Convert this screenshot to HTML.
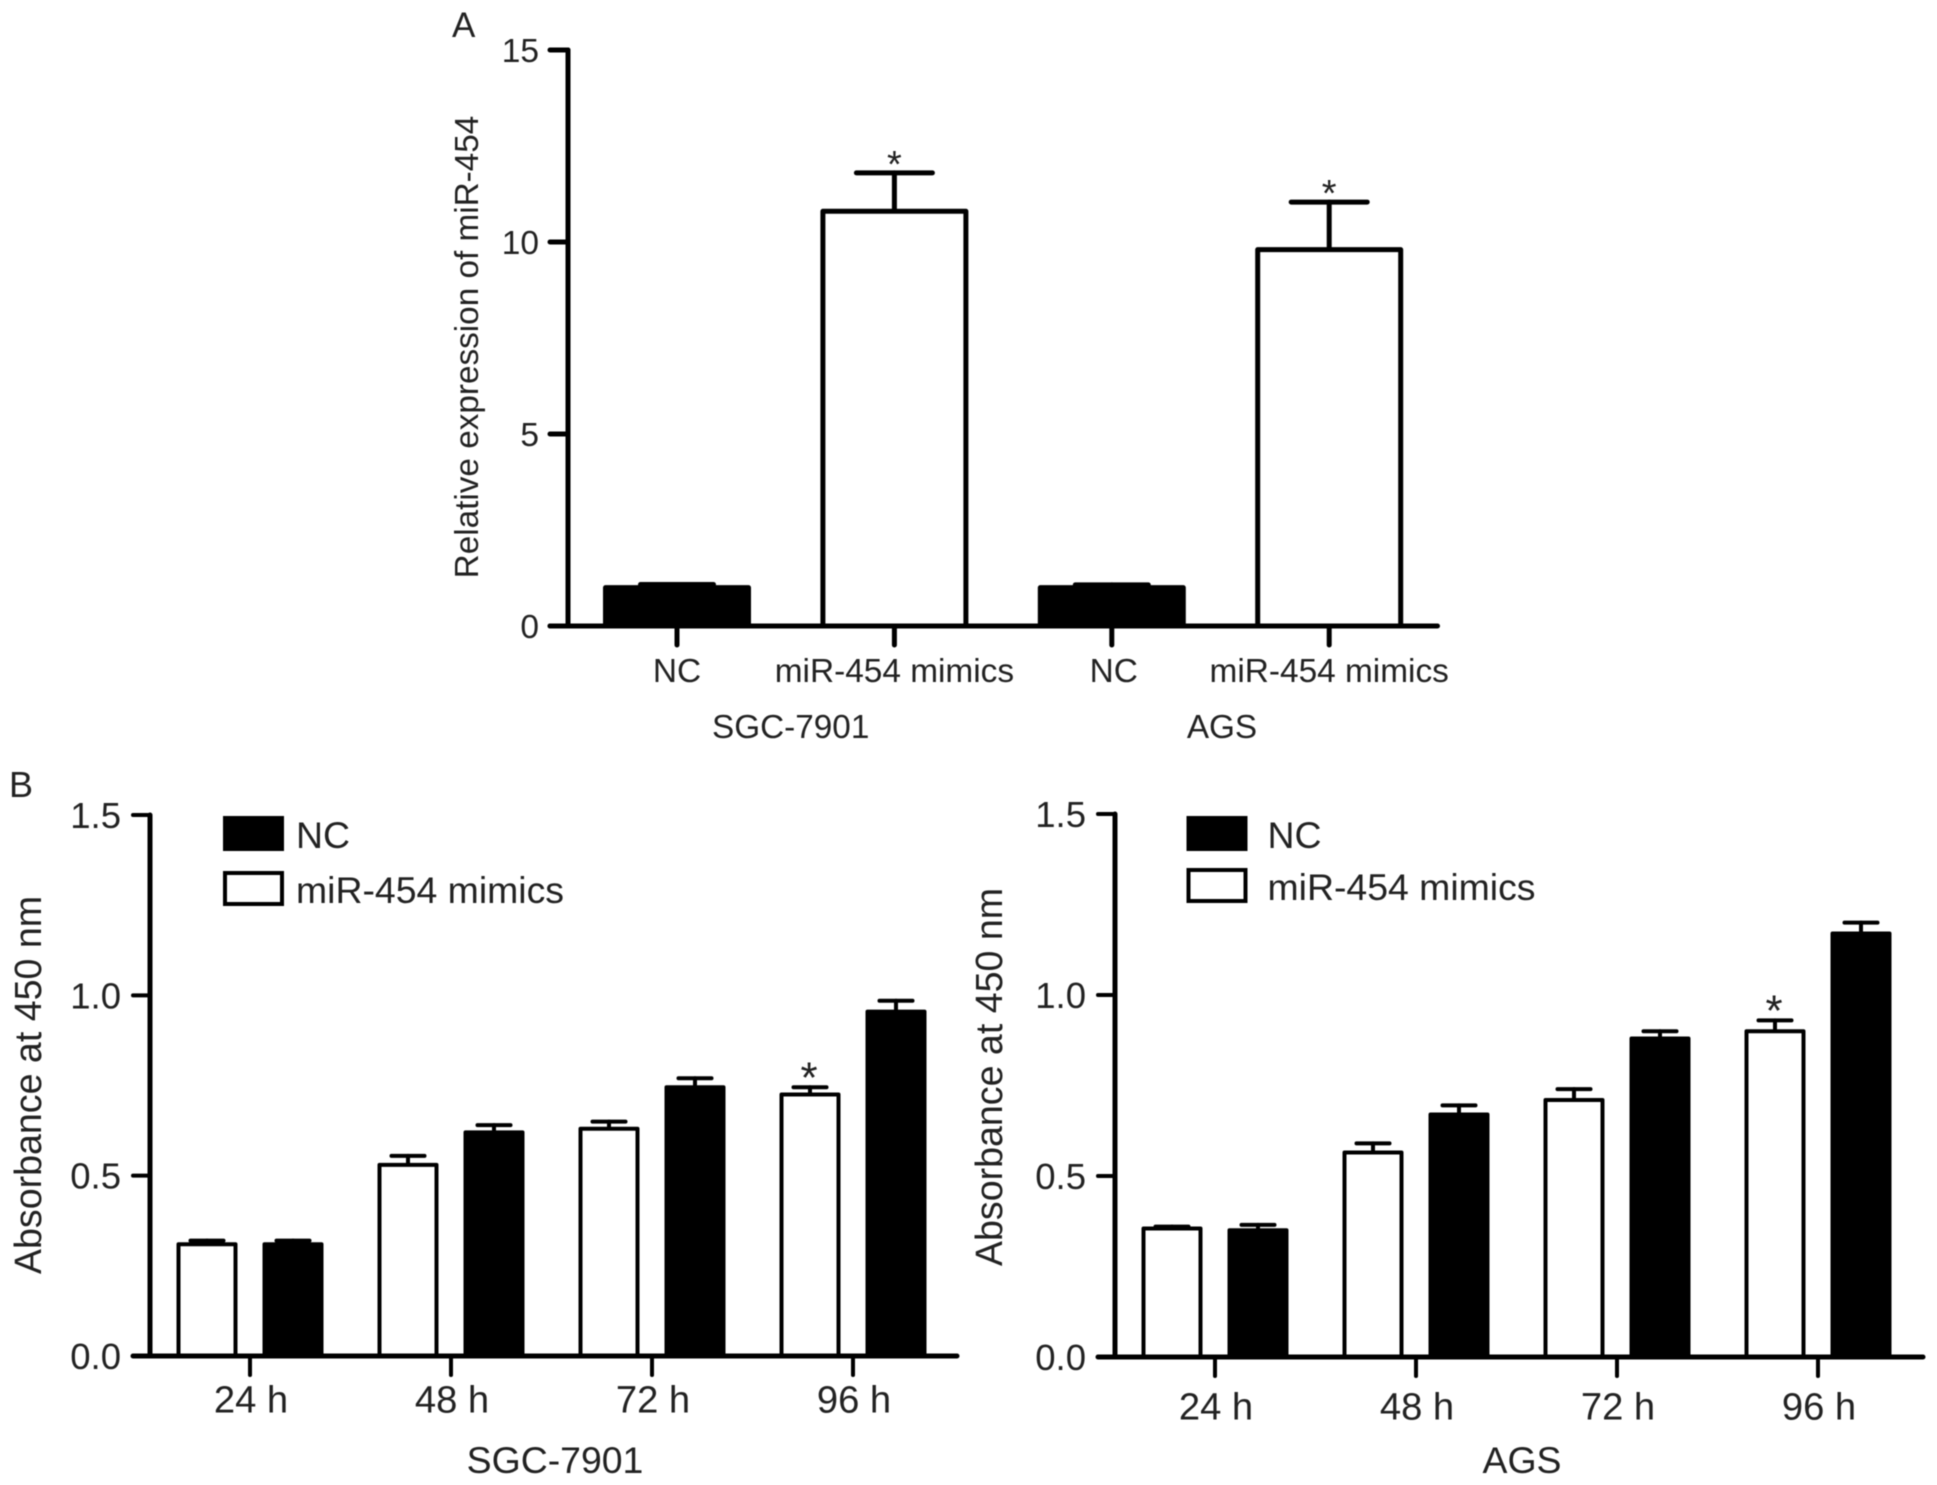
<!DOCTYPE html>
<html lang="en">
<head>
<meta charset="utf-8">
<title>miR-454 expression and absorbance charts</title>
<style>
html,body{margin:0;padding:0;background:#fff;width:1937px;height:1485px;overflow:hidden}
svg{display:block;filter:blur(0.6px)}
text{font-family:"Liberation Sans",Arial,sans-serif;fill:#222}
</style>
</head>
<body>
<svg id="figure" xmlns="http://www.w3.org/2000/svg" width="1937" height="1485" viewBox="0 0 1937 1485"></svg>
<script>
// Panel A data
const aCategories = ['NC', 'miR-454 mimics', 'NC', 'miR-454 mimics'];
const aValues = [1.0, 10.8, 1.0, 9.8];
const aErrors = [0.08, 1.0, 0.07, 1.24];
const aFilled = [true, false, true, false];
const aSignificant = [false, true, false, true];
const aYTicks = [0, 5, 10, 15];
const aGroups = ['SGC-7901', 'AGS'];

// Panel B data
const bTimes = ['24 h', '48 h', '72 h', '96 h'];
const bYTicks = ['0.0', '0.5', '1.0', '1.5'];
const sgcMimics = [0.31, 0.53, 0.63, 0.725];
const sgcMimicsErr = [0.01, 0.025, 0.02, 0.02];
const sgcNC = [0.31, 0.62, 0.745, 0.955];
const sgcNCErr = [0.01, 0.02, 0.025, 0.03];
const sgcStars = [false, false, false, true];
const agsMimics = [0.355, 0.565, 0.71, 0.90];
const agsMimicsErr = [0.005, 0.025, 0.03, 0.03];
const agsNC = [0.35, 0.67, 0.88, 1.17];
const agsNCErr = [0.015, 0.025, 0.02, 0.03];
const agsStars = [false, false, false, true];

const svg = document.getElementById('figure');
const NS = 'http://www.w3.org/2000/svg';
const INK = '#000';

function mk(tag, attrs, parent) {
  const el = document.createElementNS(NS, tag);
  for (const k in attrs) el.setAttribute(k, attrs[k]);
  (parent || svg).appendChild(el);
  return el;
}
function line(x1, y1, x2, y2, w, parent) {
  return mk('line', {x1: x1, y1: y1, x2: x2, y2: y2, stroke: INK, 'stroke-width': w, 'stroke-linecap': 'round'}, parent);
}
function label(str, x, y, size, anchor, parent, rotate) {
  const t = mk('text', {x: x, y: y, 'font-size': size, 'text-anchor': anchor}, parent);
  if (rotate) t.setAttribute('transform', 'rotate(-90 ' + x + ' ' + y + ')');
  t.textContent = str;
  return t;
}

/* ---------- panel letters ---------- */
const letterA = label('A', 452, 37, 35, 'start');


const letterB = label('B', 9, 797, 36, 'start');



/* ---------- panel A ---------- */
const aY = v => 626 - v * (576 / 15);
const aX = i => 677 + i * 217.4;
const aBarW = 143, aCapW = [73, 76, 73, 76];

const gA = mk('g', {});



aCategories.forEach(function (cat, i) {
  const cx = aX(i), top = aY(aValues[i]), errTop = aY(aValues[i] + aErrors[i]);
  const stem = line(cx, top, cx, errTop, 5, gA);
  
  
  const cap = line(cx - aCapW[i] / 2, errTop, cx + aCapW[i] / 2, errTop, 5, gA);
  
  
  const bar = mk('rect', {x: cx - aBarW / 2, y: top, width: aBarW, height: aY(0) - top,
    fill: aFilled[i] ? INK : '#fff', stroke: INK, 'stroke-width': 5, 'stroke-linejoin': 'round'}, gA);
  
  
  if (aSignificant[i]) {
    const star = label('*', cx, errTop + 4, 38, 'middle', gA);
    
    
  }
  const tick = line(cx, aY(0), cx, aY(0) + 19, 5, gA);
  
  
  const tl = label(cat, cx + (i === 2 ? 2 : 0), 682, 33.4, 'middle', gA);
  
  
});
aGroups.forEach(function (g, i) {
  const gl = label(g, (aX(2 * i) + aX(2 * i + 1)) / 2 + (i === 0 ? 5 : 1.5), 738, 33.3, 'middle', gA);
  
  
});
const aYAxis = line(568, aY(15), 568, aY(0), 5, gA);


const aXAxis = line(550, aY(0), 1437.5, aY(0), 5, gA);


aYTicks.forEach(function (t) {
  const tk = line(550, aY(t), 568, aY(t), 5, gA);
  
  
  const tl = label(String(t), 539, aY(t) + 12, 33.5, 'end', gA);
  
  
});
const aTitle = label('Relative expression of miR-454', 478, 347, 33.3, 'middle', gA, true);



/* ---------- panel B charts ---------- */
function drawB(opts) {
  const g = mk('g', {});
  
  

  const y = v => opts.y0 - v * ((opts.y0 - opts.yTop) / 1.5);
  const x = i => opts.x0 + i * 201;
  const off = 43, barW = 57, capW = 33;

  function bar(cx, v, err, filled, hasStar) {
    const top = y(v), errTop = y(v + err);
    const stem = line(cx, top, cx, errTop, 4, g);
    
    
    const cap = line(cx - capW / 2, errTop, cx + capW / 2, errTop, 4, g);
    
    
    const r = mk('rect', {x: cx - barW / 2, y: top, width: barW, height: y(0) - top,
      fill: filled ? INK : '#fff', stroke: INK, 'stroke-width': 4, 'stroke-linejoin': 'round'}, g);
    
    
    if (hasStar) {
      const s = label('*', cx - 1, errTop + 5, 44, 'middle', g);
      
      
    }
  }

  bTimes.forEach(function (t, i) {
    bar(x(i) - off, opts.mimics[i], opts.mimicsErr[i], false, opts.stars[i]);
    bar(x(i) + off, opts.nc[i], opts.ncErr[i], true, false);
    const tk = line(x(i), y(0), x(i), y(0) + 19, 4, g);
    
    
    const tl = label(t, x(i) + 1, y(0) + opts.labelOffset, 38.2, 'middle', g);
    
    
  });

  const yAxis = line(opts.axisX, y(1.5), opts.axisX, y(0), 5, g);
  
  
  const xAxis = line(opts.axisX - 17, y(0), opts.axisEnd, y(0), 5, g);
  
  
  bYTicks.forEach(function (t) {
    const v = parseFloat(t);
    const tk = line(opts.axisX - 17, y(v), opts.axisX, y(v), 4, g);
    
    
    const tl = label(t, opts.axisX - 29, y(v) + 13, 36.5, 'end', g);
    
    
  });
  const title = label('Absorbance at 450 nm', opts.titleX, opts.titleY, 37.6, 'middle', g, true);
  
  
  const cell = label(opts.cell, opts.cellX, 1473, 37.4, 'middle', g);
  
  

  const sw1 = mk('rect', {x: opts.legX, y: opts.legY, width: 57, height: 31, fill: INK, stroke: INK, 'stroke-width': 4}, g);
  
  
  const lt1 = label('NC', opts.legX + opts.legText, opts.legY + 30, 37.4, 'start', g);
  
  
  const sw2 = mk('rect', {x: opts.legX, y: opts.legY + opts.legGap, width: 57, height: 31, fill: '#fff', stroke: INK, 'stroke-width': 4}, g);
  
  
  const lt2 = label('miR-454 mimics', opts.legX + opts.legText, opts.legY + opts.legGap + 30, 37.4, 'start', g);
  
  
}

drawB({name: 'panel-b-sgc', y0: 1356, yTop: 815, x0: 250, axisX: 150, axisEnd: 957, labelOffset: 56.5,
  mimics: sgcMimics, mimicsErr: sgcMimicsErr, nc: sgcNC, ncErr: sgcNCErr, stars: sgcStars,
  titleX: 41, titleY: 1085, cell: 'SGC-7901', cellX: 555,
  legX: 225, legY: 818, legGap: 55, legText: 71});
drawB({name: 'panel-b-ags', y0: 1357, yTop: 814, x0: 1215, axisX: 1115, axisEnd: 1923, labelOffset: 62.5,
  mimics: agsMimics, mimicsErr: agsMimicsErr, nc: agsNC, ncErr: agsNCErr, stars: agsStars,
  titleX: 1002, titleY: 1077, cell: 'AGS', cellX: 1522,
  legX: 1188.5, legY: 818, legGap: 52, legText: 79});
</script>
</body>
</html>
